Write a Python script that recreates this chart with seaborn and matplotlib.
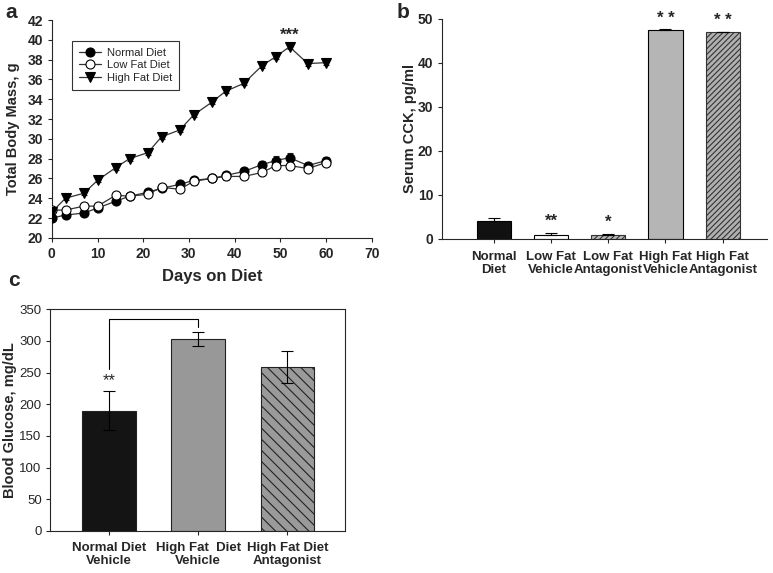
import numpy as np
import pandas as pd
import seaborn as sns
import matplotlib.pyplot as plt

sns.set_style("ticks")
plt.rcParams['font.family'] = ['Liberation Sans', 'DejaVu Sans']
plt.rcParams['hatch.linewidth'] = 0.8

# panel a: body mass over time
days = [0, 3, 7, 10, 14, 17, 21, 24, 28, 31, 35, 38, 42, 46, 49, 52, 56, 60]
normal_mass = [22.0, 22.3, 22.5, 23.0, 23.7, 24.2, 24.6, 25.0, 25.4, 25.8, 26.0, 26.3,
               26.7, 27.4, 27.8, 28.1, 27.3, 27.8]
normal_err = [0.2, 0.2, 0.2, 0.2, 0.2, 0.2, 0.2, 0.2, 0.3, 0.3, 0.3, 0.3,
              0.4, 0.4, 0.5, 0.5, 0.3, 0.4]
lowfat_mass = [22.8, 22.8, 23.2, 23.2, 24.3, 24.2, 24.4, 25.1, 24.9, 25.7, 26.0, 26.2,
               26.2, 26.6, 27.3, 27.3, 27.0, 27.6]
lowfat_err = [0.2, 0.2, 0.2, 0.2, 0.2, 0.3, 0.2, 0.3, 0.3, 0.4, 0.4, 0.4,
              0.3, 0.3, 0.3, 0.3, 0.3, 0.3]
highfat_mass = [22.6, 24.0, 24.5, 25.8, 27.1, 28.0, 28.6, 30.2, 30.9, 32.4, 33.7, 34.8,
                35.6, 37.4, 38.3, 39.3, 37.6, 37.7]
highfat_err = [0.2, 0.2, 0.2, 0.2, 0.2, 0.2, 0.2, 0.2, 0.2, 0.2, 0.2, 0.2,
               0.2, 0.2, 0.2, 0.2, 0.2, 0.2]

# panel b: serum CCK
cck_groups = ['Normal\nDiet', 'Low Fat\nVehicle', 'Low Fat\nAntagonist',
              'High Fat\nVehicle', 'High Fat\nAntagonist']
cck_values = [4.0, 0.9, 0.8, 47.4, 47.0]
cck_err = [0.8, 0.5, 0.4, 0.2, 0.1]
cck_stars = ['', '**', '*', '* *', '* *']

# panel c: blood glucose
glu_groups = ['Normal Diet\nVehicle', 'High Fat  Diet\nVehicle', 'High Fat Diet\nAntagonist']
glu_values = [190, 303, 259]
glu_err = [31, 11, 25]

fig = plt.figure(figsize=(7.73, 5.73), dpi=100)
ax_a = fig.add_axes([0.067, 0.585, 0.414, 0.380])
ax_b = fig.add_axes([0.572, 0.583, 0.420, 0.384])
ax_c = fig.add_axes([0.0647, 0.0733, 0.382, 0.387])

bold = dict(fontweight='bold')

# ---- panel a
series = [('Normal Diet', normal_mass, normal_err, 'o', 'black'),
          ('Low Fat Diet', lowfat_mass, lowfat_err, 'o', 'white'),
          ('High Fat Diet', highfat_mass, highfat_err, 'v', 'black')]
for name, vals, err, mk, fc in series:
    ax_a.errorbar(days, vals, yerr=err, fmt='none', ecolor='#222222', elinewidth=0.8,
                  capsize=2.5, capthick=0.8, zorder=2)
    df = pd.DataFrame({'day': days, 'mass': vals})
    sns.lineplot(data=df, x='day', y='mass', ax=ax_a, color='#333333', lw=0.9,
                 marker=mk, markersize=6.5, markerfacecolor=fc, markeredgecolor='black',
                 markeredgewidth=0.8, label=name, zorder=3)
ax_a.set_xlim(0, 70)
ax_a.set_ylim(20, 42)
ax_a.set_xticks(range(0, 71, 10))
ax_a.set_yticks(range(20, 43, 2))
ax_a.set_xlabel('Days on Diet', fontsize=12, labelpad=6, **bold)
ax_a.set_ylabel('Total Body Mass, g', fontsize=10.5, va='center', **bold)
ax_a.yaxis.set_label_coords(-0.122, 0.5)
ax_a.text(52, 39.7, '***', ha='center', va='bottom', fontsize=12, **bold)
leg = ax_a.legend(loc='upper left', bbox_to_anchor=(0.047, 0.93), fontsize=8,
                  frameon=True, fancybox=False, edgecolor='black', handlelength=2.0,
                  borderpad=0.6, labelspacing=0.25, handletextpad=0.5)
leg.get_frame().set_linewidth(0.8)
sns.despine(ax=ax_a)

# ---- panel b
df_b = pd.DataFrame({'group': cck_groups, 'value': cck_values})
sns.barplot(data=df_b, x='group', y='value', ax=ax_b, width=0.6,
            color='white', edgecolor='black', linewidth=0.8)
b_faces = ['#111111', 'white', '#bbbbbb', '#b5b5b5', '#b0b0b0']
b_hatch = [None, None, '//////', None, '//////']
for p, fc, h in zip(ax_b.patches, b_faces, b_hatch):
    p.set_facecolor(fc)
    if h:
        p.set_hatch(h)
        p.set_edgecolor('#333333')
ax_b.errorbar(range(5), cck_values, yerr=[[0] * 5, cck_err], fmt='none',
              ecolor='black', elinewidth=0.8, capsize=4, capthick=0.8)
for i, s in enumerate(cck_stars):
    if s:
        ax_b.text(i, cck_values[i] + cck_err[i] + 0.8, s, ha='center', va='bottom',
                  fontsize=12, **bold)
ax_b.set_xlim(-0.9, 4.77)
ax_b.set_ylim(0, 50)
ax_b.set_yticks(range(0, 51, 10))
ax_b.set_xlabel('')
ax_b.set_ylabel('Serum CCK, pg/ml', fontsize=10.5, va='center', **bold)
ax_b.yaxis.set_label_coords(-0.098, 0.5)
ax_b.tick_params(axis='x', length=0, pad=6)
sns.despine(ax=ax_b)

# ---- panel c
df_c = pd.DataFrame({'group': glu_groups, 'value': glu_values})
sns.barplot(data=df_c, x='group', y='value', ax=ax_c, width=0.6,
            color='white', edgecolor='#222222', linewidth=0.8)
c_faces = ['#141414', '#989898', '#9a9a9a']
c_hatch = [None, None, '\\\\\\']
for p, fc, h in zip(ax_c.patches, c_faces, c_hatch):
    p.set_facecolor(fc)
    if h:
        p.set_hatch(h)
ax_c.errorbar(range(3), glu_values, yerr=glu_err, fmt='none',
              ecolor='black', elinewidth=0.8, capsize=4, capthick=0.8)
ax_c.plot([0, 0, 1, 1], [255, 334, 334, 322], color='black', lw=0.8)
ax_c.text(0, 225, '**', ha='center', va='bottom', fontsize=12)
ax_c.set_xlim(-0.66, 2.65)
ax_c.set_ylim(0, 350)
ax_c.set_yticks(range(0, 351, 50))
ax_c.set_xlabel('')
ax_c.set_ylabel('Blood Glucose, mg/dL', fontsize=10.5, va='center', **bold)
ax_c.yaxis.set_label_coords(-0.137, 0.5)
ax_c.tick_params(axis='x', pad=5)

for ax in (ax_a, ax_b, ax_c):
    ax.tick_params(direction='out', length=3, width=0.8, labelsize=10)
    for sp in ax.spines.values():
        sp.set_linewidth(0.8)
ax_c.tick_params(axis='y', labelsize=9.5, pad=3)
for lab in ax_a.get_xticklabels() + ax_a.get_yticklabels() + \
        ax_b.get_xticklabels() + ax_b.get_yticklabels() + ax_c.get_xticklabels():
    lab.set_fontweight('bold')
for lab in ax_b.get_xticklabels() + ax_c.get_xticklabels():
    lab.set_fontsize(9.5)
    lab.set_linespacing(1.1)

fig.text(5 / 773, 1 - 12 / 573, 'a', fontsize=15, va='center', **bold)
fig.text(397 / 773, 1 - 12 / 573, 'b', fontsize=15, va='center', **bold)
fig.text(8 / 773, 1 - 280 / 573, 'c', fontsize=15, va='center', **bold)

fig.savefig('out.png', dpi=100)
